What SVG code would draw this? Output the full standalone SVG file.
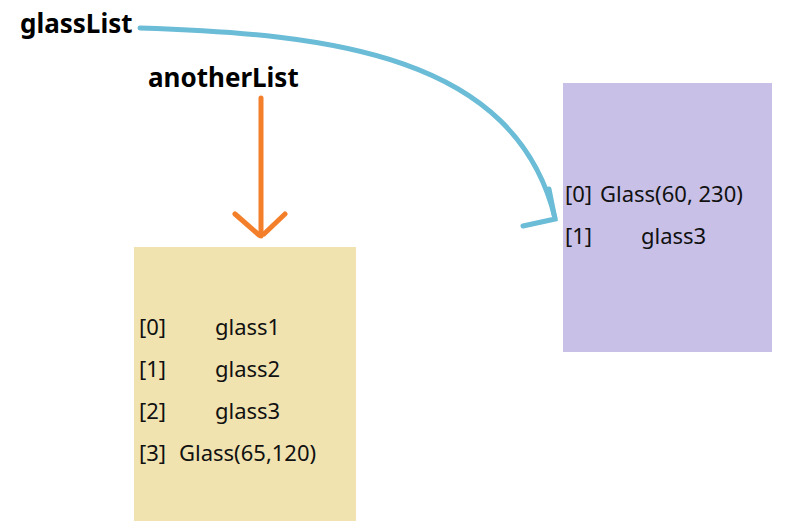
<svg xmlns="http://www.w3.org/2000/svg" width="796" height="529" viewBox="0 0 796 529">
<style>
.t{font-family:"Noto Sans","Open Sans",sans-serif;font-size:22px;fill:#111}
.lbl{font-family:"Noto Sans","Open Sans",sans-serif;font-size:26px;font-weight:bold;fill:#000}
.blue{fill:none;stroke:#6bbcd6;stroke-width:5;stroke-linecap:round}
.orange{fill:none;stroke:#f47f2a;stroke-width:5;stroke-linecap:round}
</style>
<rect width="796" height="529" fill="#fff"/>
<g id="glassList"><text class="lbl" x="20" y="33">glassList</text></g>
<g id="anotherList"><text class="lbl" x="148" y="87">anotherList</text></g>
<g id="listA">
<rect x="134" y="247" width="222" height="274" fill="#f0e3b0"/>
<text class="t" x="139" y="335">[0]</text><text class="t" x="215" y="335">glass1</text>
<text class="t" x="139" y="377">[1]</text><text class="t" x="215" y="377">glass2</text>
<text class="t" x="139" y="419">[2]</text><text class="t" x="215" y="419">glass3</text>
<text class="t" x="139" y="461">[3]</text><text class="t" x="179" y="461">Glass(65,120)</text>
</g>
<g id="listB">
<rect x="563" y="83" width="209" height="269" fill="#c8c0e6"/>
<text class="t" x="565" y="202">[0]</text><text class="t" x="600" y="202">Glass(60, 230)</text>
<text class="t" x="565" y="244">[1]</text><text class="t" x="641" y="244">glass3</text>
</g>
<g id="connectors">
<path class="blue" d="M140,28 C330,34 515,55 555,218"/>
<path class="blue" d="M549,189 L555,219 L523,226"/>
<path class="orange" d="M261,98 L261,236"/>
<path class="orange" d="M235,214 L259,235 M285,214 L264,234"/>
</g>
</svg>
